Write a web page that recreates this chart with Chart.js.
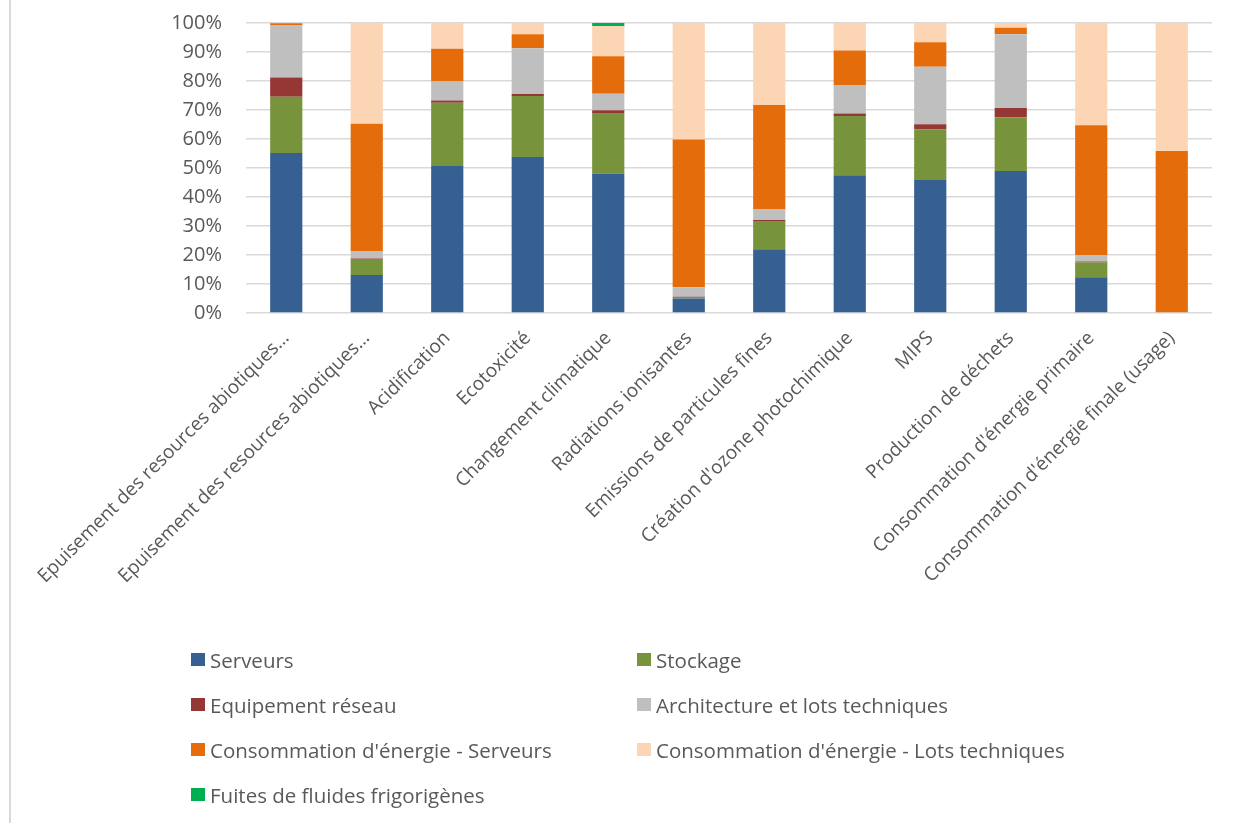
<!DOCTYPE html>
<html lang="fr">
<head>
    <meta charset="UTF-8">
    <title>Répartition des impacts</title>
    <script src="https://cdn.jsdelivr.net/npm/chart.js"></script>
    <style>
        * { margin: 0; padding: 0; box-sizing: border-box; }
        body { background: #fff; width: 1239px; height: 823px; overflow: hidden; font-family: 'Open Sans', sans-serif; }
        .frame { position: absolute; left: 9px; top: 0; width: 1230px; height: 823px; border-left: 2px solid #d9d9d9; }
        .chart-box { position: absolute; left: 0; top: -13px; width: 1239px; height: 653px; }
        #legend { position: absolute; left: 191px; top: 637px; display: grid; grid-template-columns: 446px 446px; }
        .item { display: flex; align-items: center; height: 45px; color: #595959; font-size: 20.5px; white-space: nowrap; }
        .swatch { width: 14px; height: 13px; margin-right: 5px; }
    </style>
</head>
<body>
    <div class="frame"></div>
    <div class="chart-box"><canvas id="chart"></canvas></div>
    <div id="legend"></div>

    <script>
        // Catégories (axe X)
        const categories = [
            'Epuisement des resources abiotiques…',
            'Epuisement des resources abiotiques…',
            'Acidification',
            'Ecotoxicité',
            'Changement climatique',
            'Radiations ionisantes',
            'Emissions de particules fines',
            "Création d'ozone photochimique",
            'MIPS',
            'Production de déchets',
            "Consommation d'énergie primaire",
            "Consommation d'énergie finale (usage)"
        ];

        // Valeurs en %
        const serveurs     = [55.2, 13.1, 50.7, 53.8, 48.1,  5.0, 22.0, 47.5, 45.9, 49.0, 12.3,  0.0];
        const stockage     = [19.4,  5.3, 21.8, 21.0, 20.9,  0.5,  9.7, 20.4, 17.4, 18.5,  5.1,  0.0];
        const reseau       = [ 6.6,  0.4,  0.8,  0.7,  0.9,  0.1,  0.4,  0.9,  1.8,  3.2,  0.4,  0.0];
        const architecture = [18.1,  2.4,  6.5, 15.8,  5.7,  3.3,  3.6,  9.8, 19.8, 25.4,  2.2,  0.0];
        const energieServ  = [ 0.6, 44.1, 11.3,  4.8, 12.9, 50.9, 36.0, 11.9,  8.5,  2.3, 44.7, 55.9];
        const energieLots  = [ 0.1, 34.7,  8.9,  3.9, 10.4, 40.2, 28.3,  9.5,  6.6,  1.6, 35.3, 44.1];
        const fuites       = [ 0.0,  0.0,  0.0,  0.0,  1.1,  0.0,  0.0,  0.0,  0.0,  0.0,  0.0,  0.0];

        const yTicks = [0, 10, 20, 30, 40, 50, 60, 70, 80, 90, 100];

        const series = [
            { label: 'Serveurs', data: serveurs, color: '#376092' },
            { label: 'Stockage', data: stockage, color: '#77933c' },
            { label: 'Equipement réseau', data: reseau, color: '#953735' },
            { label: 'Architecture et lots techniques', data: architecture, color: '#bfbfbf' },
            { label: "Consommation d'énergie - Serveurs", data: energieServ, color: '#e46c0a' },
            { label: "Consommation d'énergie - Lots techniques", data: energieLots, color: '#fcd5b5' },
            { label: 'Fuites de fluides frigorigènes', data: fuites, color: '#00b050' }
        ];

        Chart.defaults.font.family = "'Open Sans', sans-serif";
        Chart.defaults.color = '#595959';

        const chart = new Chart(document.getElementById('chart'), {
            type: 'bar',
            data: {
                labels: categories,
                datasets: series.map(s => ({
                    label: s.label,
                    data: s.data,
                    backgroundColor: s.color,
                    borderWidth: 0,
                    barPercentage: 0.4,
                    categoryPercentage: 1
                }))
            },
            options: {
                responsive: true,
                maintainAspectRatio: false,
                animation: false,
                layout: { padding: { top: 0, right: 27, left: 0, bottom: 0 } },
                plugins: { legend: { display: false }, tooltip: { enabled: false } },
                scales: {
                    x: {
                        stacked: true,
                        grid: { display: false },
                        border: { display: false },
                        ticks: { autoSkip: false, minRotation: 45, maxRotation: 45, padding: 6, font: { size: 19 } },
                        afterFit(scale) { scale.height = 327; }
                    },
                    y: {
                        stacked: true,
                        min: 0,
                        max: 100,
                        afterBuildTicks(scale) { scale.ticks = yTicks.map(v => ({ value: v })); },
                        grid: { color: '#d9d9d9', lineWidth: 1.5, drawTicks: false },
                        border: { display: false },
                        ticks: { padding: 24, font: { size: 20 }, callback: v => v + '%' },
                        afterFit(scale) { scale.width = 246; }
                    }
                }
            }
        });

        // Légende HTML construite à partir des datasets du graphique
        const legend = document.getElementById('legend');
        chart.data.datasets.forEach(ds => {
            const item = document.createElement('div');
            item.className = 'item';
            const sw = document.createElement('span');
            sw.className = 'swatch';
            sw.style.background = ds.backgroundColor;
            item.appendChild(sw);
            item.appendChild(document.createTextNode(ds.label));
            legend.appendChild(item);
        });
    </script>
</body>
</html>
